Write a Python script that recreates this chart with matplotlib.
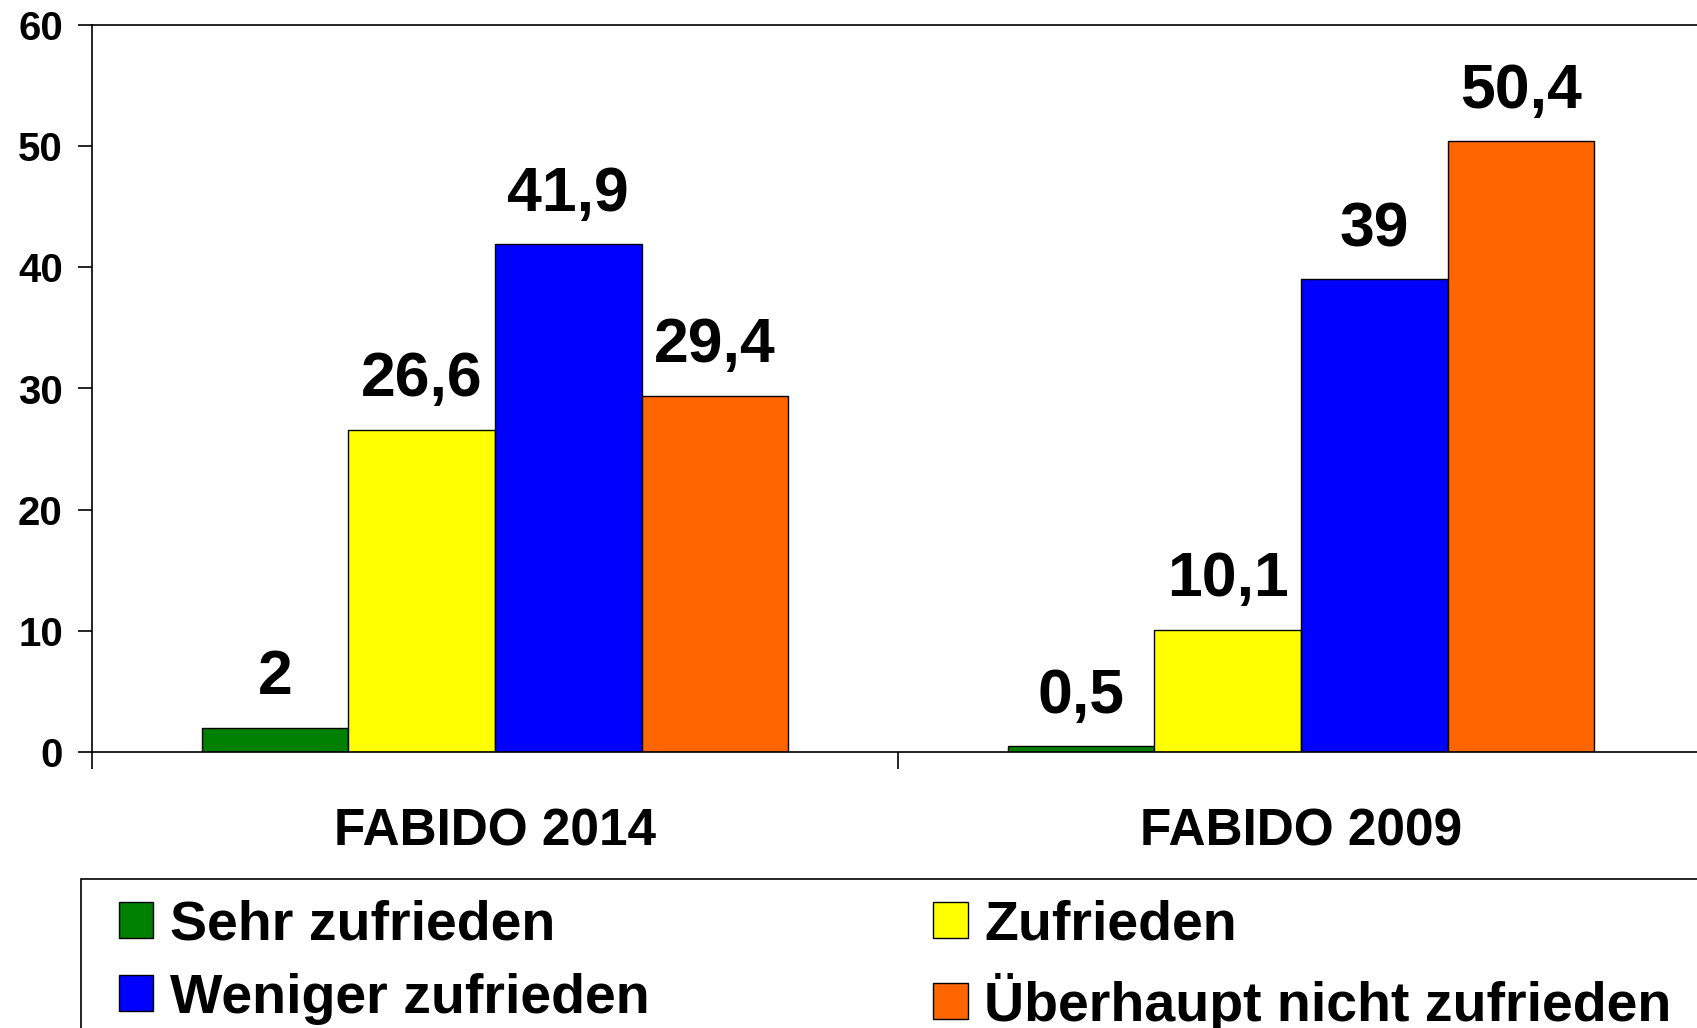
import numpy as np
import matplotlib
matplotlib.use("Agg")
import matplotlib.pyplot as plt
from matplotlib.patches import Rectangle

plt.rcParams['font.family'] = ['Liberation Sans', 'DejaVu Sans']
plt.rcParams['font.weight'] = 'bold'

groups = ['FABIDO 2014', 'FABIDO 2009']
series = ['Sehr zufrieden', 'Zufrieden', 'Weniger zufrieden', 'Überhaupt nicht zufrieden']
sehr_zufrieden = [2.0, 0.5]
zufrieden = [26.6, 10.1]
weniger_zufrieden = [41.9, 39.0]
nicht_zufrieden = [29.4, 50.4]
colors = ['#008000', '#FFFF00', '#0000FF', '#FF6600']


def de_fmt(v):
    s = f"{v:.1f}".rstrip('0').rstrip('.')
    return s.replace('.', ',')


fig = plt.figure(figsize=(16.97, 10.28), dpi=100)
ax = fig.add_axes([92 / 1697, 276 / 1028, 1612 / 1697, 727 / 1028])

x = np.arange(len(groups))
w = 0.182
values = [sehr_zufrieden, zufrieden, weniger_zufrieden, nicht_zufrieden]
handles = []
for i, (name, vals, c) in enumerate(zip(series, values, colors)):
    pos = x + (i - 1.5) * w
    bars = ax.bar(pos, vals, width=w, color=c, edgecolor='black', linewidth=1, label=name)
    handles.append(bars)
    for b, v in zip(bars, vals):
        ax.annotate(de_fmt(v), (b.get_x() + b.get_width() / 2, v),
                    xytext=(0, 24), textcoords='offset points',
                    ha='center', va='baseline', fontsize=45, fontweight='bold')

ax.set_xlim(-0.5, 1.5)
ax.set_ylim(0, 60)
ax.set_yticks(range(0, 61, 10))
ax.tick_params(axis='y', labelsize=29, length=10, width=1.2, pad=11)
ax.set_xticks(x)
ax.set_xticklabels(groups)
ax.tick_params(axis='x', which='major', length=0, labelsize=37, pad=40)
ax.set_xticks([-0.5, 0.5, 1.5], minor=True)
ax.tick_params(axis='x', which='minor', length=12, width=1.2)
for s in ax.spines.values():
    s.set_linewidth(1.2)

# legend box runs off the right and bottom edge like in the original
fig.patches.append(Rectangle((81 / 1697, -0.1), 1.0, 0.1 + 1 - 879 / 1028,
                             transform=fig.transFigure, fill=False,
                             edgecolor='black', linewidth=1.2))

order = [0, 2, 1, 3]  # row-wise filling
leg = fig.legend([handles[k] for k in order], [series[k] for k in order],
                 loc='upper left', bbox_to_anchor=(119 / 1697, 1 - 900 / 1028),
                 ncol=2, fontsize=40, frameon=False, borderaxespad=0,
                 handlelength=0.62, handleheight=0.62, handletextpad=0.3,
                 columnspacing=5.1, borderpad=0, labelspacing=0.37)

fig.savefig('out.png', dpi=100)
